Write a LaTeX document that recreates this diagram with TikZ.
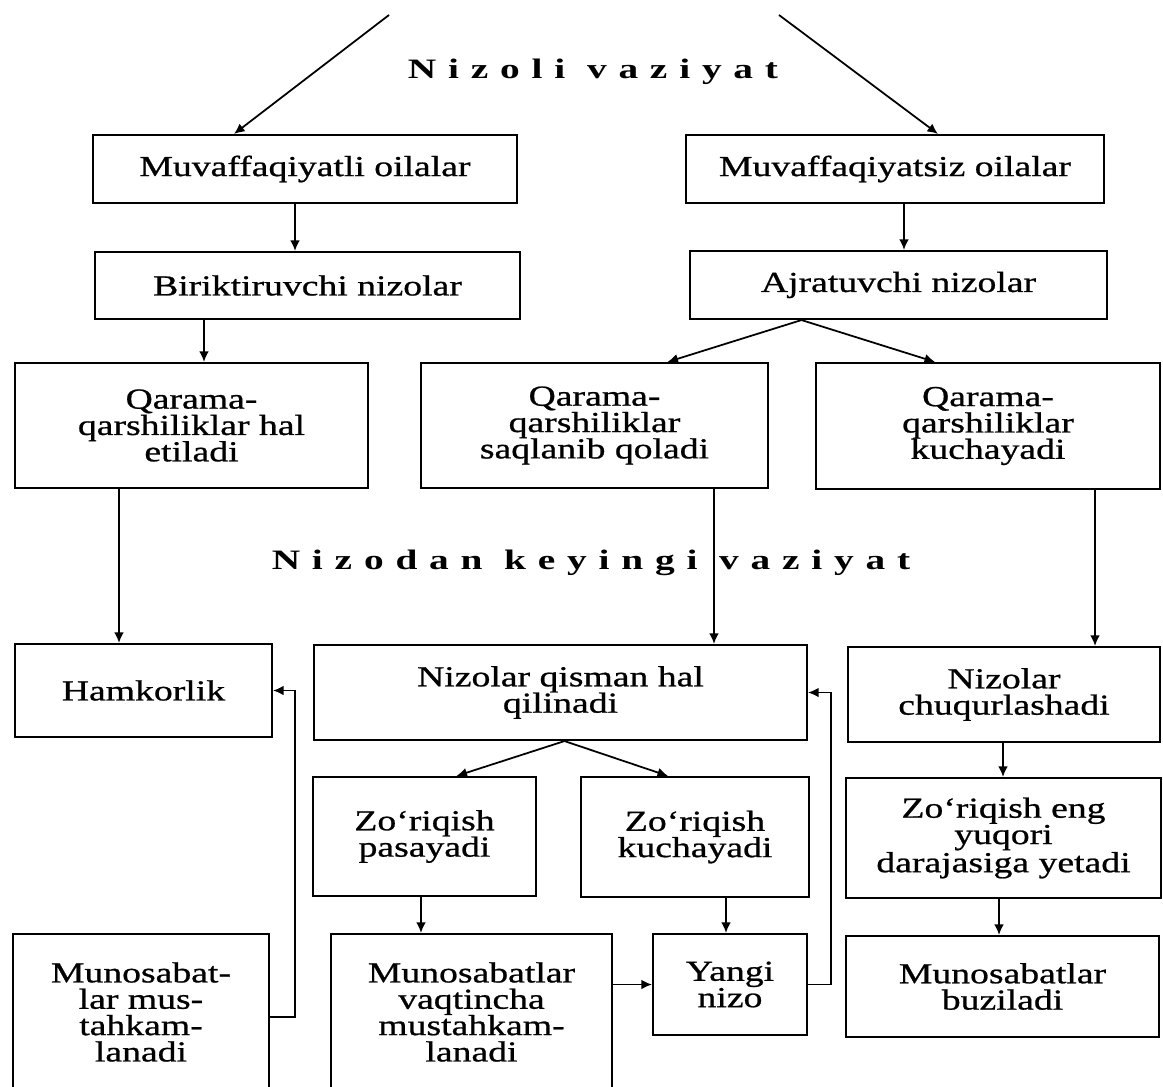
\documentclass[tikz,border=0pt]{standalone}
\usepackage{fontspec}
\setmainfont{Liberation Serif}[FakeStretch=1.3,FakeBold=0.8]
\newfontfamily\titlefont{Liberation Serif}[FakeStretch=1.4,LetterSpace=42]
\usetikzlibrary{arrows.meta,calc}
\tikzset{
 box/.style={draw, line width=1.2pt, inner sep=0pt, align=center, font=\fontsize{16.5}{15}\selectfont},
 arr/.style={line width=1pt, -{Latex[length=6pt,width=5.5pt]}},
 ttl/.style={font=\titlefont\bfseries\fontsize{16}{18}\selectfont},
}
\newcommand\bx[6]{\node[box, minimum width={(#4-#2)*0.02cm}, minimum height={(#5-#3)*0.02cm}] (#1) at ({(#2+#4)/2},{(#3+#5)/2}) {#6};}
\begin{document}
\begin{tikzpicture}[x=0.02cm,y=-0.02cm]
\useasboundingbox (0,0) rectangle (1163,1086);
\clip (0,0) rectangle (1163,1086);
\bx{muv}{93}{135}{517}{203}{Muvaffaqiyatli oilalar}
\bx{muvs}{686}{135}{1104}{203}{Muvaffaqiyatsiz oilalar}
\bx{bir}{95}{252}{520}{319}{Biriktiruvchi nizolar}
\bx{ajr}{690}{251}{1107}{319}{Ajratuvchi nizolar}
\bx{qh}{15}{363}{368}{488}{Qarama-\\qarshiliklar hal\\etiladi}
\bx{qs}{421}{363}{768}{488}{Qarama-\\qarshiliklar\\saqlanib qoladi}
\bx{qk}{816}{363}{1160}{489}{Qarama-\\qarshiliklar\\kuchayadi}
\bx{ham}{15}{644}{272}{737}{Hamkorlik}
\bx{niz}{314}{645}{807}{740}{Nizolar qisman hal\\qilinadi}
\bx{chq}{848}{647}{1160}{742}{Nizolar\\chuqurlashadi}
\bx{zp}{313}{777}{536}{896}{Zo‘riqish\\pasayadi}
\bx{zk}{581}{777}{809}{897}{Zo‘riqish\\kuchayadi}
\bx{zey}{846}{778}{1161}{898}{Zo‘riqish eng\\yuqori\\darajasiga yetadi}
\bx{ml}{13}{934}{269}{1090}{Munosabat-\\lar mus-\\tahkam-\\lanadi}
\bx{mv}{331}{934}{612}{1090}{Munosabatlar\\vaqtincha\\mustahkam-\\lanadi}
\bx{yan}{653}{934}{807}{1035}{Yangi\\nizo}
\bx{buz}{846}{936}{1159}{1037}{Munosabatlar\\buziladi}
\node[ttl] (t1) at (593,72) {Nizoli vaziyat};
\node[ttl] (t2) at (591,563) {Nizodan keyingi vaziyat};
% free ends and helper columns
\coordinate (tl) at (389,15);
\coordinate (tr) at (779,15);
\coordinate (v295) at (295,0);
\coordinate (v904) at (904,0);
\coordinate (v204) at (204,0);
\coordinate (v119) at (119,0);
\coordinate (v714) at (714,0);
\coordinate (v1095) at (1095,0);
\coordinate (v1003) at (1003,0);
\coordinate (v421) at (421,0);
\coordinate (v726) at (726,0);
\coordinate (v999) at (999,0);
\coordinate (v831) at (831,0);
\coordinate (lft) at (295,1017);
\draw[arr] (tl) -- ($(muv.north)+(-71,0)$);
\draw[arr] (tr) -- ($(muvs.north)+(43,0)$);
\draw[arr] (v295 |- muv.south) -- (v295 |- bir.north);
\draw[arr] (v904 |- muvs.south) -- (v904 |- ajr.north);
\draw[arr] (v204 |- bir.south) -- (v204 |- qh.north);
\coordinate (a1) at ($(ajr.south)+(-97,0)$);
\draw[arr] (a1) -- ($(qs.north)+(73,0)$);
\draw[arr] (a1) -- ($(qk.north)+(-53,0)$);
\draw[arr] (v119 |- qh.south) -- (v119 |- ham.north);
\draw[arr] (v714 |- qs.south) -- (v714 |- niz.north);
\draw[arr] (v1095 |- qk.south) -- (v1095 |- chq.north);
\coordinate (a2) at ($(niz.south)+(4,0)$);
\draw[arr] (a2) -- ($(zp.north)+(32,0)$);
\draw[arr] (a2) -- ($(zk.north)+(-27,0)$);
\draw[arr] (v1003 |- chq.south) -- (v1003 |- zey.north);
\draw[arr] (v421 |- zp.south) -- (v421 |- mv.north);
\draw[arr] (v726 |- zk.south) -- (v726 |- yan.north);
\draw[arr] (v999 |- zey.south) -- (v999 |- buz.north);
\draw[arr] (mv.east |- yan.east) -- (yan.west);
\draw[arr] (yan.east) -- (v831 |- yan.east) |- (niz.east);
\draw[arr] (ml.east |- lft) -- (lft) |- (ham.east);
\end{tikzpicture}
\end{document}
